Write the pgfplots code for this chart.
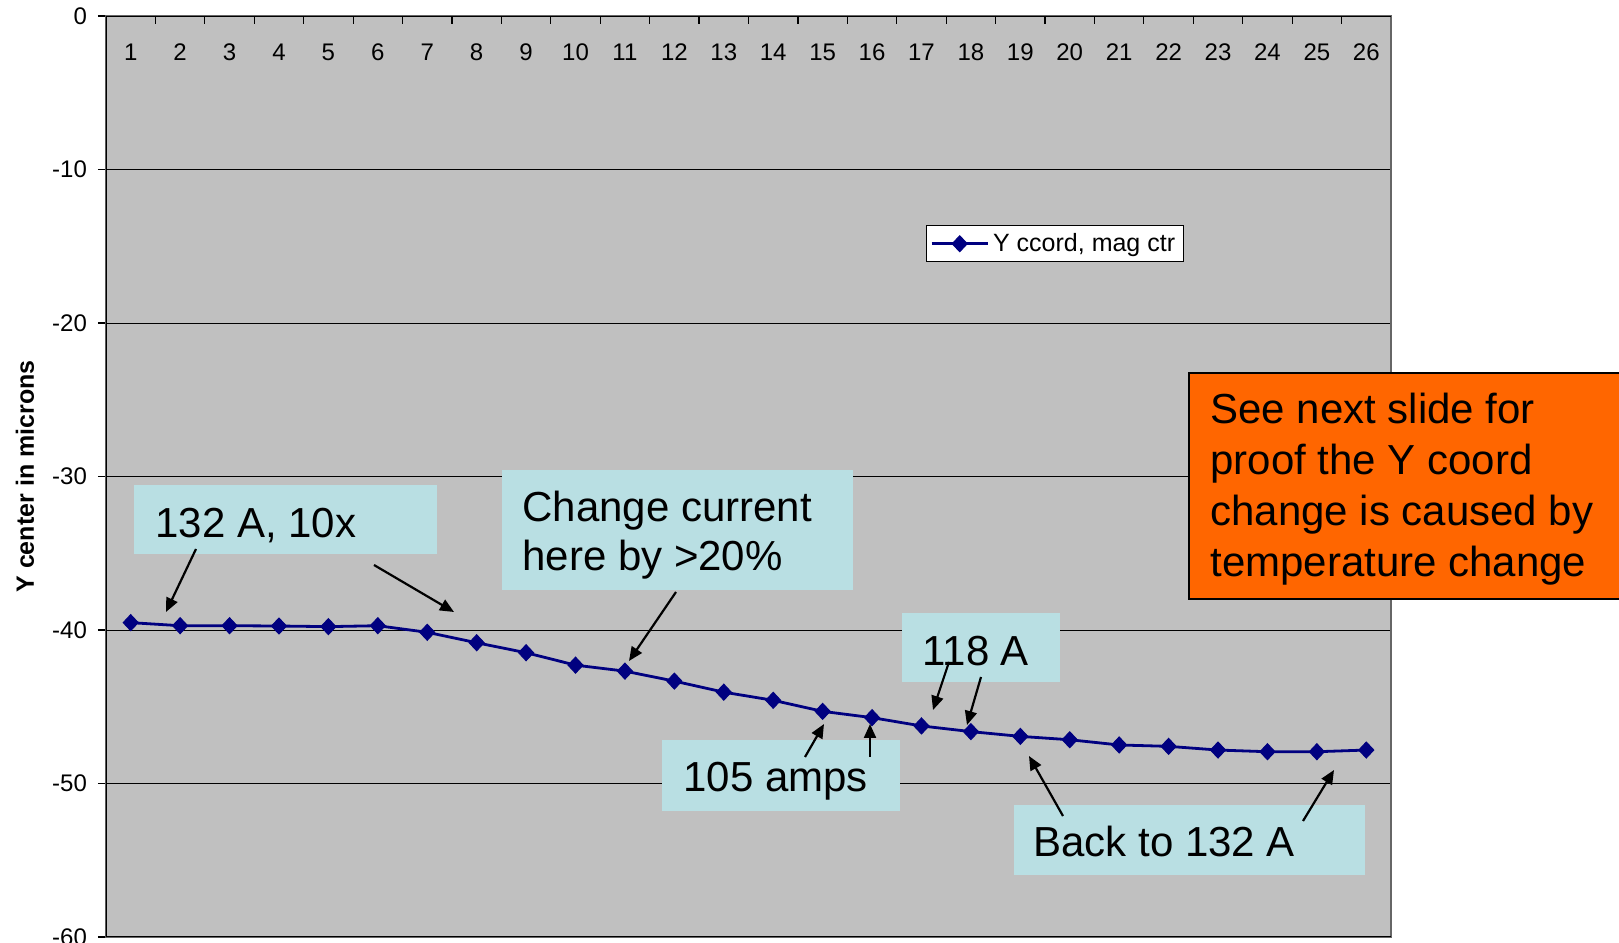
\documentclass[border=0pt]{standalone}
\usepackage{pgfplots}
\pgfplotsset{compat=1.18}
\usepackage{fontspec}
\setmainfont{Liberation Sans}
\usetikzlibrary{arrows.meta}

\definecolor{plotgray}{RGB}{192,192,192}
\definecolor{navyline}{RGB}{0,0,128}
\definecolor{notecyan}{RGB}{185,223,227}
\definecolor{noteorange}{RGB}{255,102,0}

\pgfplotstableread{
idx  y
1   -39.52
2   -39.72
3   -39.72
4   -39.74
5   -39.78
6   -39.72
7   -40.15
8   -40.83
9   -41.48
10  -42.29
11  -42.68
12  -43.33
13  -44.05
14  -44.58
15  -45.30
16  -45.71
17  -46.25
18  -46.62
19  -46.93
20  -47.15
21  -47.49
22  -47.58
23  -47.82
24  -47.93
25  -47.93
26  -47.82
}\ycoord

\begin{document}
\begin{tikzpicture}
\begin{axis}[
  at={(53pt,3pt)}, anchor=south west,
  scale only axis, width=642.5pt, height=460.5pt,
  xmin=0.5, xmax=26.5, ymin=-60, ymax=0,
  axis background/.style={fill=plotgray},
  axis line style={draw=gray!80!black, line width=0.6pt},
  xtick={0.5,1.5,...,26.5},
  x tick label as interval,
  xticklabels={1,2,3,4,5,6,7,8,9,10,11,12,13,14,15,16,17,18,19,20,21,22,23,24,25,26},
  xtick pos=upper, xticklabel pos=upper,
  xtick align=inside,
  xticklabel style={anchor=center, yshift=-18pt, font=\fontsize{12}{14}\selectfont},
  ytick={-60,-50,...,0},
  yticklabels={-60,-50,-40,-30,-20,-10,0},
  ytick pos=left, ytick align=outside,
  yticklabel style={anchor=east, xshift=-2pt, font=\fontsize{12}{14}\selectfont},
  major tick length=4pt,
  tick style={black, line width=0.6pt},
  ymajorgrids, grid style={black, line width=0.5pt},
  ylabel={\bfseries Y center in microns},
  ylabel style={at={(axis description cs:-0.063,0.5)}, anchor=center, rotate=0, font=\fontsize{12.5}{14}\selectfont},
  legend style={at={(rel axis cs:0.638,0.773)}, anchor=north west,
    draw=black, fill=white, line width=0.5pt,
    font=\fontsize{12.5}{14}\selectfont, inner xsep=2pt, inner ysep=1.8pt},
  legend cell align=left,
  legend image code/.code={\draw[mark repeat=2, mark phase=2, #1]
    plot coordinates {(0pt,0pt) (14pt,0pt) (28pt,0pt)};},
]
\addplot[navyline, line width=1.4pt, mark=diamond*, mark size=4pt,
  mark options={fill=navyline, draw=navyline, xscale=1.25, line width=0.5pt}]
  table[x=idx, y=y] {\ycoord};
\addlegendentry{Y ccord, mag ctr}
\draw[black, line width=0.8pt] (rel axis cs:0,0) -- (rel axis cs:0,1) -- (rel axis cs:1,1);
\draw[black, line width=0.5pt] (rel axis cs:0,0) -- (rel axis cs:1,0);
\end{axis}

% call-outs, laid out on a 1619 x 943 grid with the origin at the top left
\begin{scope}[x=0.5pt, y=-0.5pt, shift={(0pt,471.5pt)},
  every node/.style={inner sep=0pt, font=\fontsize{21}{25.3}\selectfont},
  arr/.style={-{Triangle[length=7pt,width=6pt]}, black, line width=1.1pt}]
  % 132 A, 10x
  \fill[notecyan] (134,485) rectangle (437,554);
  \node[anchor=base west] at (155,538) {132 A, 10x};
  \draw[arr] (196,549) -- (166,612);
  \draw[arr] (374,565) -- (454,612);
  % change current
  \fill[notecyan] (502,470) rectangle (853,590);
  \node[anchor=base west] at (522,522) {Change current};
  \node[anchor=base west] at (522,571) {here by >20\%};
  \draw[arr] (676,592) -- (629,661);
  % 118 A
  \fill[notecyan] (902,613) rectangle (1060,682);
  \node[anchor=base west] at (922,666) {118 A};
  \draw[arr] (949,662) -- (933,710);
  \draw[arr] (981,677) -- (967,725);
  % 105 amps
  \fill[notecyan] (662,740) rectangle (900,811);
  \node[anchor=base west] at (683,792) {105 amps};
  \draw[arr] (805,757) -- (824,724);
  \draw[arr] (870,757) -- (870,724);
  % back to 132 A
  \fill[notecyan] (1014,805) rectangle (1365,875);
  \node[anchor=base west] at (1033,857) {Back to 132 A};
  \draw[arr] (1063,816) -- (1029,756);
  \draw[arr] (1303,821) -- (1334,770);
  % side note
  \filldraw[fill=noteorange, draw=black, line width=1pt] (1189,373) rectangle (1630,599);
  \node[anchor=base west] at (1210,424) {See next slide for};
  \node[anchor=base west] at (1210,475) {proof the Y coord};
  \node[anchor=base west] at (1210,526) {change is caused by};
  \node[anchor=base west] at (1210,577) {temperature change};
\end{scope}
\pgfresetboundingbox
\path[use as bounding box] (0pt,0pt) rectangle (809.5pt,471.5pt);
\end{tikzpicture}
\end{document}
